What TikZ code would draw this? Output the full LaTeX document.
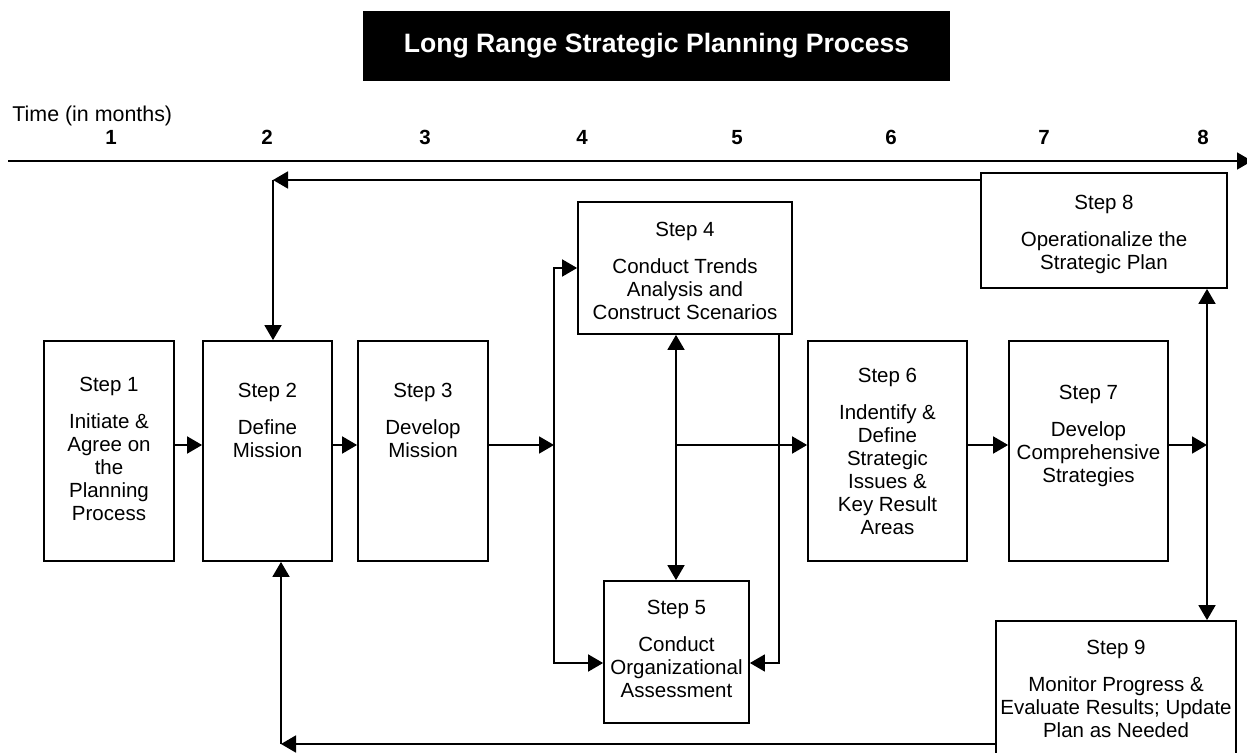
\documentclass[tikz,border=0pt]{standalone}
\usepackage{fontspec}
\setmainfont{Liberation Sans}
\usetikzlibrary{arrows.meta}
\begin{document}
\begin{tikzpicture}[x=0.5pt,y=-0.5pt,
  box/.style={draw, line width=0.9pt, inner sep=0pt, rectangle},
  txt/.style={font=\fontsize{10.25pt}{11.5pt}\selectfont, align=center, inner sep=0pt, anchor=north},
  conn/.style={line width=0.9pt},
  arr/.style={conn, -{Triangle[length=7.5pt,width=8.5pt]}},
  arrs/.style={conn, {Triangle[length=7.5pt,width=8.5pt]}-{Triangle[length=7.5pt,width=8.5pt]}},
  num/.style={font=\fontsize{10.25pt}{12pt}\selectfont\bfseries, inner sep=0pt, anchor=base}]
\useasboundingbox (0,0) rectangle (1247,753);

% title
\node[fill=black, text=white, minimum width=293.5pt, minimum height=35pt, inner sep=0pt,
  font=\fontsize{13.3pt}{15pt}\selectfont\bfseries] (title) at (656.5,46) {Long Range Strategic Planning Process};

% time axis
\node[font=\fontsize{10.7pt}{12pt}\selectfont, inner sep=0pt, anchor=base west] (tlabel) at (12,122) {Time (in months)};
\node[num] (m1) at (111,145) {1};
\node[num] (m2) at (267,145) {2};
\node[num] (m3) at (425,145) {3};
\node[num] (m4) at (582,145) {4};
\node[num] (m5) at (737,145) {5};
\node[num] (m6) at (891,145) {6};
\node[num] (m7) at (1044,145) {7};
\node[num] (m8) at (1203,145) {8};
\coordinate (axl) at (8,161);
\coordinate (axr) at (1252,161);
\draw[arr] (axl) -- (axr);

% boxes
\node[box, minimum width=65pt, minimum height=110pt] (s1) at (109,451) {};
\node[box, minimum width=64.5pt, minimum height=110pt] (s2) at (267.5,451) {};
\node[box, minimum width=65pt, minimum height=110pt] (s3) at (423,451) {};
\node[box, minimum width=107pt, minimum height=66pt] (s4) at (685,268) {};
\node[box, minimum width=72.5pt, minimum height=71pt] (s5) at (676.5,652) {};
\node[box, minimum width=79.5pt, minimum height=110pt] (s6) at (887.5,451) {};
\node[box, minimum width=79.5pt, minimum height=110pt] (s7) at (1088.5,451) {};
\node[box, minimum width=123pt, minimum height=57.5pt] (s8) at (1104,230.5) {};
\node[box, minimum width=120pt, minimum height=90pt] (s9) at (1116,711) {};

% texts
\node[txt] (t1) at (109,377) {Step 1\\[7pt]Initiate \&\\Agree on\\the\\Planning\\Process};
\node[txt] (t2) at (267.5,383) {Step 2\\[7pt]Define\\Mission};
\node[txt] (t3) at (423,383) {Step 3\\[7pt]Develop\\Mission};
\node[txt] (t4) at (685,222) {Step 4\\[7pt]Conduct Trends\\Analysis and\\Construct Scenarios};
\node[txt] (t5) at (676.5,600) {Step 5\\[7pt]Conduct\\Organizational\\Assessment};
\node[txt] (t6) at (887.5,368) {Step 6\\[7pt]Indentify \&\\Define\\Strategic\\Issues \&\\Key Result\\Areas};
\node[txt] (t7) at (1088.5,385) {Step 7\\[7pt]Develop\\Comprehensive\\Strategies};
\node[txt] (t8) at (1104,195) {Step 8\\[7pt]Operationalize the\\Strategic Plan};
\node[txt] (t9) at (1116,640) {Step 9\\[7pt]Monitor Progress \&\\Evaluate Results; Update\\Plan as Needed};

% helper coordinates
\coordinate (row) at (0,445);
\coordinate (ytop) at (0,180);
\coordinate (ybot) at (0,744);
\coordinate (y5) at (0,663);
\coordinate (c2t) at (273,180);
\coordinate (c2b) at (281,744);
\coordinate (jl) at (554,445);
\coordinate (jc) at (676,445);
\coordinate (jr) at (1207,445);
\coordinate (xr4) at (779,0);

% main row
\draw[arr] (s1.east |- row) -- (s2.west |- row);
\draw[arr] (s2.east |- row) -- (s3.west |- row);
\draw[arr] (s3.east |- row) -- (jl);
\draw[arr] (jl) |- (s4.west);
\draw[arr] (jl) |- (s5.west |- y5);
\draw[arr] (s4.south -| xr4) |- (s5.east |- y5);
\draw[arrs] (s4.south -| jc) -- (s5.north -| jc);
\draw[arr] (jc) -- (s6.west |- jc);
\draw[arr] (s6.east |- row) -- (s7.west |- row);
\draw[arr] (s7.east |- row) -- (jr);
\draw[arrs] (s8.south -| jr) -- (s9.north -| jr);

% feedback loops
\draw[arr] (s8.west |- ytop) -- (c2t);
\draw[arr] (c2t) -- (c2t |- s2.north);
\draw[arr] (s9.west |- ybot) -- (c2b);
\draw[arr] (c2b) -- (c2b |- s2.south);
\end{tikzpicture}
\end{document}
